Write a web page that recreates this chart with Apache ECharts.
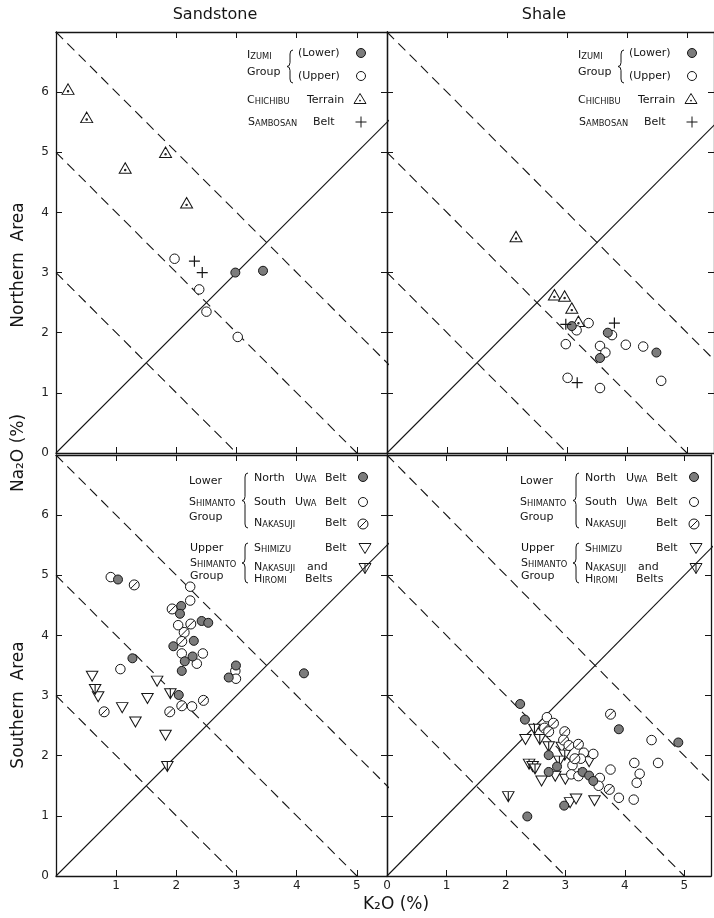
<!DOCTYPE html>
<html><head><meta charset="utf-8">
<script src="https://cdn.jsdelivr.net/npm/echarts@6/dist/echarts.min.js"></script>
<style>html,body{margin:0;padding:0;background:#fff}#c{width:714px;height:918px}</style>
</head><body><div id="c"></div>
<script>
// ---- tick labels ----
const xTickLabels = ['0','1','2','3','4','5'];
const yTickLabels = ['0','1','2','3','4','5','6'];
// reference lines: K2O + Na2O = const (dashed), Na2O = K2O (solid)
const guideSums = [3, 5, 7];
const identityEnd = 8;

// ---- Northern Area, Sandstone ----
const nsIzumiLower = [[2.98,3.00],[3.44,3.03]];
const nsIzumiUpper = [[1.97,3.23],[2.38,2.72],[2.50,2.35],[3.02,1.93]];
const nsChichibu   = [[0.20,6.05],[0.51,5.58],[1.15,4.74],[1.82,5.00],[2.17,4.16]];
const nsSambosan   = [[2.30,3.19],[2.43,3.00]];

// ---- Northern Area, Shale ----
const nhIzumiLower = [[3.08,2.11],[3.68,2.00],[3.55,1.58],[4.49,1.67]];
const nhIzumiUpper = [[3.16,2.04],[3.36,2.16],[3.75,1.96],[2.98,1.81],[3.55,1.78],[3.64,1.67],[3.98,1.80],[4.27,1.77],[3.01,1.25],[3.55,1.08],[4.57,1.20]];
const nhChichibu   = [[2.15,3.60],[2.79,2.63],[2.96,2.61],[3.08,2.41],[3.19,2.19]];
const nhSambosan   = [[2.98,2.14],[3.79,2.16],[3.17,1.17]];

// ---- Southern Area, Sandstone ----
const ssNorthUwa = [[1.03,4.93],[2.08,4.49],[2.06,4.36],[2.42,4.24],[2.53,4.21],[1.95,3.82],[2.29,3.91],[2.27,3.65],[2.14,3.57],[2.09,3.41],[1.27,3.62],[2.99,3.50],[2.87,3.30],[4.12,3.37],[2.04,3.01]];
const ssSouthUwa = [[0.91,4.97],[2.23,4.81],[2.23,4.58],[2.03,4.17],[2.09,3.70],[2.44,3.70],[2.34,3.53],[1.07,3.44],[2.98,3.41],[2.99,3.28],[2.26,2.82]];
const ssNakasuji = [[1.30,4.84],[1.93,4.44],[2.24,4.19],[2.13,4.05],[2.09,3.90],[0.80,2.73],[1.89,2.73],[2.09,2.83],[2.45,2.92]];
const ssShimizu  = [[0.60,3.32],[0.70,2.98],[1.10,2.80],[1.32,2.56],[1.52,2.95],[1.68,3.24],[1.82,2.34]];
const ssNakasujiHiromi = [[0.65,3.10],[1.90,3.03],[1.85,1.82]];

// ---- Southern Area, Shale ----
const shNorthUwa = [[2.24,2.86],[2.32,2.60],[2.72,2.01],[2.86,1.82],[2.72,1.73],[3.29,1.73],[3.40,1.67],[3.47,1.58],[3.90,2.44],[4.90,2.22],[2.98,1.17],[2.36,0.99]];
const shSouthUwa = [[2.69,2.64],[3.31,2.05],[3.47,2.03],[3.26,1.95],[3.12,1.84],[3.10,1.69],[3.22,1.66],[3.58,1.63],[3.56,1.50],[3.76,1.77],[4.45,2.26],[4.16,1.88],[4.56,1.88],[4.25,1.70],[4.20,1.55],[3.90,1.30],[4.15,1.27]];
const shNakasuji = [[2.80,2.54],[2.65,2.46],[2.72,2.40],[2.99,2.40],[2.97,2.26],[3.06,2.17],[3.22,2.19],[3.16,1.95],[3.76,2.69],[3.74,1.44]];
const shShimizu  = [[2.33,2.27],[2.94,2.14],[3.40,1.90],[2.83,1.66],[3.00,1.61],[2.60,1.58],[3.08,1.22],[3.18,1.28],[3.49,1.25]];
const shNakasujiHiromi = [[2.48,2.44],[2.57,2.27],[2.72,2.15],[2.99,2.01],[2.90,1.91],[2.39,1.86],[2.45,1.82],[2.49,1.78],[2.04,1.32]];

// ---------------------------------------------------------------
const FONT = 'DejaVu Sans';
const INK = '#151515';
const GREY = '#7c7c7c';

const grids = [
  {left:56,  top:32,  width:331, height:421},
  {left:387, top:32,  width:328, height:421},
  {left:56,  top:455, width:331, height:421},
  {left:387, top:455, width:328, height:421}
];
const xMax = [5.5, 5.45, 5.5, 5.45];
const yMax = 7;

const SYM = {
  filled: 'circle',
  open: 'circle',
  slash: 'path://M10,0A10,10,0,1,1,10,20A10,10,0,1,1,10,0ZM3,17L17,3',
  triUp: 'path://M10,0L20,17L0,17ZM10,10.6A1.2,1.2,0,1,1,10,13A1.2,1.2,0,1,1,10,10.6Z',
  triDown: 'path://M0,0L20,0L10,17Z',
  triDownBar: 'path://M0,0L20,0L10,17ZM10,0L10,17',
  plus: 'path://M10,0L10,20M0,10L20,10'
};
const SIZE = {filled:9, open:9.5, slash:10, triUp:[12,10.5], triDown:[11.5,10], triDownBar:[11.5,10], plus:11};

const xAxes = [], yAxes = [], series = [];
grids.forEach((g, i) => {
  const common = {
    gridIndex:i, type:'value', min:0, interval:1,
    axisLine:{show:true, onZero:false, lineStyle:{color:INK, width:1.3}},
    axisTick:{show:true, inside:true, length:6, lineStyle:{color:INK, width:1}},
    splitLine:{show:false}
  };
  xAxes.push(Object.assign({}, common, {max:xMax[i], position:'bottom',
    axisLabel:{show:i>=2, margin:4, fontSize:12, color:'#222', fontFamily:FONT,
      formatter:v => (i===2 && v===0) ? '' : (xTickLabels[v] !== undefined && Number.isInteger(v) ? xTickLabels[v] : '')}}));
  xAxes.push(Object.assign({}, common, {max:xMax[i], position:'top', axisLabel:{show:false}}));
  yAxes.push(Object.assign({}, common, {max:yMax, position:'left',
    axisLabel:{show:(i===0||i===2), margin:7, fontSize:12, color:'#222', fontFamily:FONT,
      formatter:v => (Number.isInteger(v) && yTickLabels[v] !== undefined) ? yTickLabels[v] : ''}}));
  yAxes.push(Object.assign({}, common, {max:yMax, position:'right', axisLabel:{show:false}}));

  // guide lines
  guideSums.forEach(s => series.push({
    type:'line', xAxisIndex:2*i, yAxisIndex:2*i, data:[[0,s],[s,0]], symbol:'none', clip:true,
    lineStyle:{color:INK, width:1.1, type:[10,6]}, silent:true, z:1
  }));
  series.push({
    type:'line', xAxisIndex:2*i, yAxisIndex:2*i, data:[[0,0],[identityEnd,identityEnd]], symbol:'none', clip:true,
    lineStyle:{color:INK, width:1.1}, silent:true, z:1
  });
});

function scatter(panel, data, kind) {
  series.push({
    type:'scatter', xAxisIndex:2*panel, yAxisIndex:2*panel, data:data,
    symbol:SYM[kind], symbolSize:SIZE[kind], z:3,
    itemStyle:{color: kind==='filled' ? GREY : (kind==='plus' ? 'rgba(0,0,0,0)' : '#fff'),
      borderColor:INK, borderWidth: kind==='plus' ? 1.2 : 1, opacity:1}
  });
}
scatter(0, nsChichibu, 'triUp'); scatter(0, nsIzumiUpper, 'open'); scatter(0, nsIzumiLower, 'filled'); scatter(0, nsSambosan, 'plus');
scatter(1, nhChichibu, 'triUp'); scatter(1, nhIzumiUpper, 'open'); scatter(1, nhIzumiLower, 'filled'); scatter(1, nhSambosan, 'plus');
scatter(2, ssShimizu, 'triDown'); scatter(2, ssNakasujiHiromi, 'triDownBar'); scatter(2, ssSouthUwa, 'open'); scatter(2, ssNakasuji, 'slash'); scatter(2, ssNorthUwa, 'filled');
scatter(3, shShimizu, 'triDown'); scatter(3, shNakasujiHiromi, 'triDownBar'); scatter(3, shSouthUwa, 'open'); scatter(3, shNakasuji, 'slash'); scatter(3, shNorthUwa, 'filled');

// ---------------- graphic: titles, legends ----------------
const G = [];
function text(x, y, t, opts) {
  opts = opts || {};
  G.push({type:'text', x:x, y:y, rotation:opts.rot||0, z:10, silent:true,
    style:{text:t, fontFamily:FONT, fontSize:opts.size||11, fill:INK,
      textAlign:opts.align||'left', align:opts.align||'left',
      textVerticalAlign:'middle', verticalAlign:'middle', rich:opts.rich}});
}
const RICH = {
  a:{fontSize:11, fontFamily:FONT, fill:INK, verticalAlign:'bottom'},
  b:{fontSize:8.3, fontFamily:FONT, fill:INK, verticalAlign:'bottom'},
  r:{fontSize:11, fontFamily:FONT, fill:INK, verticalAlign:'bottom'}
};
function sc(word) { return '{a|' + word[0] + '}{b|' + word.slice(1).toUpperCase() + '}'; }
function rg(word) { return '{r|' + word + '}'; }
function lt(x, y, t) { text(x, y, t, {rich:RICH}); }

function brace(x, y1, y2) {
  const w = 6, r = 4, ym = (y1 + y2) / 2, xm = x + w / 2;
  const st = {stroke:INK, lineWidth:1, fill:null};
  G.push({type:'bezierCurve', silent:true, shape:{x1:x+w, y1:y1, x2:xm, y2:y1+r, cpx1:xm, cpy1:y1}, style:st});
  G.push({type:'line', silent:true, shape:{x1:xm, y1:y1+r, x2:xm, y2:ym-r}, style:st});
  G.push({type:'bezierCurve', silent:true, shape:{x1:xm, y1:ym-r, x2:x, y2:ym, cpx1:xm, cpy1:ym}, style:st});
  G.push({type:'bezierCurve', silent:true, shape:{x1:x, y1:ym, x2:xm, y2:ym+r, cpx1:xm, cpy1:ym}, style:st});
  G.push({type:'line', silent:true, shape:{x1:xm, y1:ym+r, x2:xm, y2:y2-r}, style:st});
  G.push({type:'bezierCurve', silent:true, shape:{x1:xm, y1:y2-r, x2:x+w, y2:y2, cpx1:xm, cpy1:y2}, style:st});
}
function marker(kind, cx, cy) {
  const st = {stroke:INK, lineWidth:1, fill:'#fff'};
  if (kind === 'filled') G.push({type:'circle', silent:true, shape:{cx, cy, r:4.5}, style:{stroke:INK, lineWidth:1, fill:GREY}});
  else if (kind === 'open') G.push({type:'circle', silent:true, shape:{cx, cy, r:4.5}, style:st});
  else if (kind === 'slash') {
    G.push({type:'circle', silent:true, shape:{cx, cy, r:5}, style:st});
    G.push({type:'line', silent:true, shape:{x1:cx-3.5, y1:cy+3.5, x2:cx+3.5, y2:cy-3.5}, style:st});
  } else if (kind === 'triUp') {
    G.push({type:'polygon', silent:true, shape:{points:[[cx,cy-5.5],[cx+6,cy+4.5],[cx-6,cy+4.5]]}, style:st});
    G.push({type:'circle', silent:true, shape:{cx, cy:cy+1.6, r:0.9}, style:{fill:INK}});
  } else if (kind === 'triDown' || kind === 'triDownBar') {
    G.push({type:'polygon', silent:true, shape:{points:[[cx-6,cy-4.5],[cx+6,cy-4.5],[cx,cy+5.5]]}, style:st});
    if (kind === 'triDownBar') G.push({type:'line', silent:true, shape:{x1:cx, y1:cy-4.5, x2:cx, y2:cy+5.5}, style:st});
  } else if (kind === 'plus') {
    G.push({type:'line', silent:true, shape:{x1:cx-5.5, y1:cy, x2:cx+5.5, y2:cy}, style:st});
    G.push({type:'line', silent:true, shape:{x1:cx, y1:cy-5.5, x2:cx, y2:cy+5.5}, style:st});
  }
}

function northLegend(L, T) {
  lt(L+191, T+23, sc('Izumi'));
  lt(L+191, T+40, rg('Group'));
  brace(L+231, T+18, T+51);
  lt(L+242, T+21, rg('(Lower)'));  marker('filled', L+305, T+21);
  lt(L+242, T+44, rg('(Upper)'));  marker('open', L+305, T+44);
  lt(L+191, T+68, sc('Chichibu')); lt(L+251, T+68, rg('Terrain')); marker('triUp', L+304, T+67);
  lt(L+192, T+90, sc('Sambosan')); lt(L+257, T+90, rg('Belt'));    marker('plus', L+305, T+90);
}
function southLegend(L, T) {
  lt(L+133, T+26, rg('Lower'));
  lt(L+133, T+47, sc('Shimanto'));
  lt(L+133, T+62, rg('Group'));
  brace(L+186, T+18, T+73);
  lt(L+198, T+23, rg('North')); lt(L+239, T+23, sc('Uwa')); lt(L+269, T+23, rg('Belt')); marker('filled', L+307, T+22);
  lt(L+198, T+47, rg('South')); lt(L+239, T+47, sc('Uwa')); lt(L+269, T+47, rg('Belt')); marker('open', L+307, T+47);
  lt(L+198, T+68, sc('Nakasuji')); lt(L+269, T+68, rg('Belt')); marker('slash', L+307, T+69);
  lt(L+134, T+93, rg('Upper'));
  lt(L+134, T+108, sc('Shimanto'));
  lt(L+134, T+121, rg('Group'));
  brace(L+186, T+88, T+128);
  lt(L+198, T+93, sc('Shimizu')); lt(L+269, T+93, rg('Belt')); marker('triDown', L+309, T+93);
  lt(L+198, T+112, sc('Nakasuji')); lt(L+251, T+112, rg('and'));
  lt(L+198, T+124, sc('Hiromi')); lt(L+249, T+124, rg('Belts')); marker('triDownBar', L+309, T+113);
}
northLegend(56, 32);
northLegend(387, 32);
southLegend(56, 455);
southLegend(387, 455);

text(215, 15, 'Sandstone', {size:16, align:'center'});
text(544, 15, 'Shale', {size:16, align:'center'});
text(19, 265, 'Northern  Area', {size:17, align:'center', rot:Math.PI/2});
text(19, 453, 'Na\u2082O (%)', {size:17, align:'center', rot:Math.PI/2});
text(19, 705, 'Southern  Area', {size:17, align:'center', rot:Math.PI/2});
text(396, 905, 'K\u2082O (%)', {size:17, align:'center'});

const chart = echarts.init(document.getElementById('c'), null, {renderer:'canvas'});
chart.setOption({
  animation:false,
  backgroundColor:'#fff',
  grid:grids.map(g => Object.assign({containLabel:false}, g)),
  xAxis:xAxes, yAxis:yAxes, series:series, graphic:{elements:G}
});
</script></body></html>
